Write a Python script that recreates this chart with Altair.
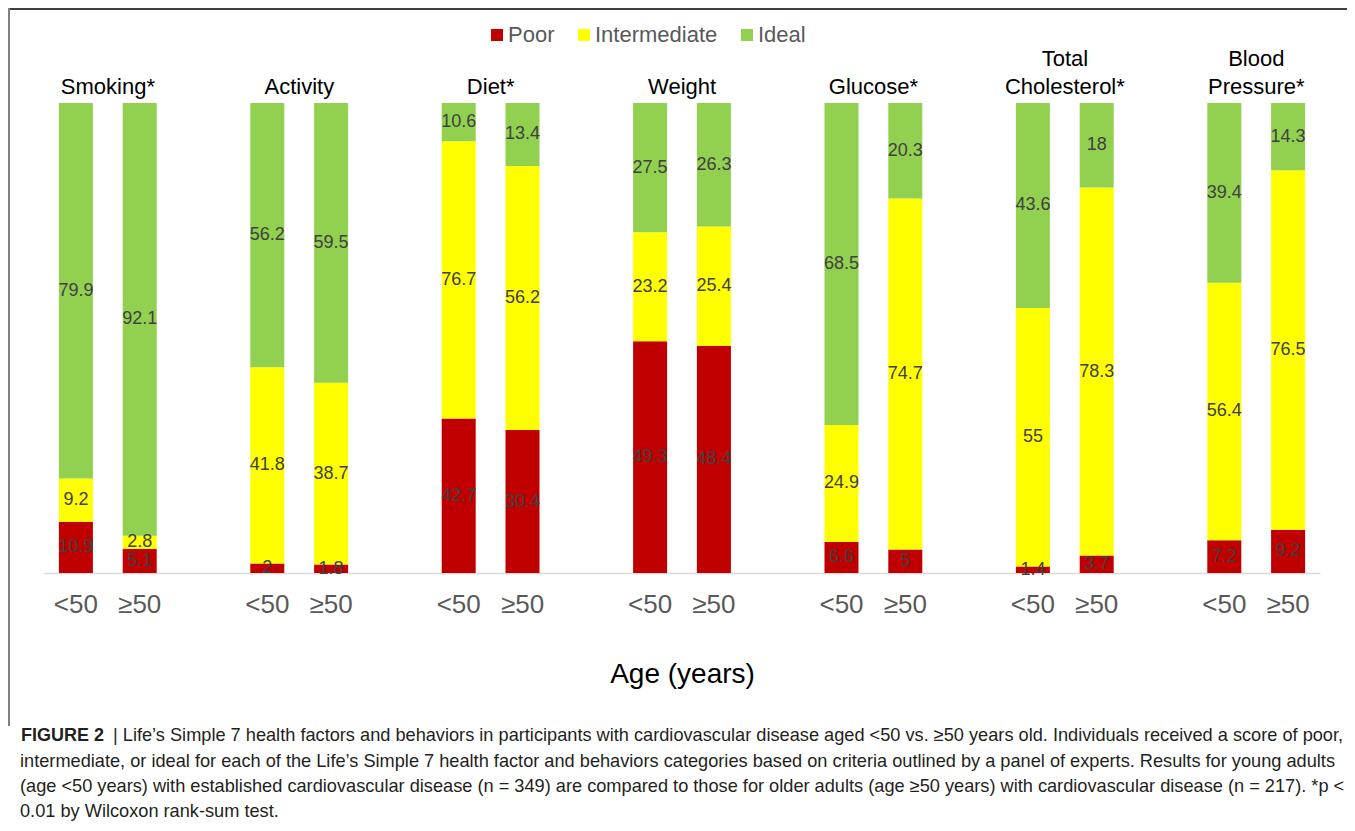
import altair as alt
import pandas as pd

# ---------------- data ----------------
factors = ["Smoking*", "Activity", "Diet*", "Weight", "Glucose*",
           "Total\nCholesterol*", "Blood\nPressure*"]
ages = ["<50", "≥50"]
levels = ["Poor", "Intermediate", "Ideal"]
level_colors = ["#C00000", "#FFFF00", "#92D050"]

poor_lt50 = [10.9, 2, 42.7, 49.3, 6.6, 1.4, 7.2]
poor_ge50 = [5.1, 1.8, 30.4, 48.4, 5, 3.7, 9.2]
inter_lt50 = [9.2, 41.8, 76.7, 23.2, 24.9, 55, 56.4]
inter_ge50 = [2.8, 38.7, 56.2, 25.4, 74.7, 78.3, 76.5]
ideal_lt50 = [79.9, 56.2, 10.6, 27.5, 68.5, 43.6, 39.4]
ideal_ge50 = [92.1, 59.5, 13.4, 26.3, 20.3, 18, 14.3]

caption_bold = "FIGURE 2"
caption_line1 = ("| Life’s Simple 7 health factors and behaviors in participants with cardiovascular "
                 "disease aged <50 vs. ≥50 years old. Individuals received a score of poor,")
caption_line2 = ("intermediate, or ideal for each of the Life’s Simple 7 health factor and behaviors "
                 "categories based on criteria outlined by a panel of experts. Results for young adults")
caption_line3 = ("(age <50 years) with established cardiovascular disease (n = 349) are compared to those "
                 "for older adults (age ≥50 years) with cardiovascular disease (n = 217). *p <")
caption_line4 = "0.01 by Wilcoxon rank-sum test."

# ---------------- table ----------------
series = {
    ("<50", "Poor"): poor_lt50, ("≥50", "Poor"): poor_ge50,
    ("<50", "Intermediate"): inter_lt50, ("≥50", "Intermediate"): inter_ge50,
    ("<50", "Ideal"): ideal_lt50, ("≥50", "Ideal"): ideal_ge50,
}
slots = []
for i in range(len(factors)):
    slots += [f"F{i} <50", f"F{i} ≥50"]
    if i < len(factors) - 1:
        slots.append(f"gap{i}")

rows = []
for i, f in enumerate(factors):
    for a in ages:
        for k, lv in enumerate(levels):
            rows.append({"slot": f"F{i} {a}", "level": lv, "order": k,
                         "value": series[(a, lv)][i]})
df = pd.DataFrame(rows)

title_top, title_bottom = [], []
for f in factors:
    parts = f.split("\n")
    title_top.append(parts[0] if len(parts) > 1 else "")
    title_bottom.append(parts[-1])
titles_df = pd.DataFrame({"slot": [f"F{i} <50" for i in range(len(factors))],
                          "top": title_top, "bottom": title_bottom})

W, H = 1276, 470
FONT = "Liberation Sans"
CAP_FONT = "Liberation Sans"

xscale = alt.Scale(domain=slots, paddingInner=0.467, paddingOuter=0.2335)
xaxis = alt.Axis(
    title="Age (years)", titleFontSize=28, titleFont=FONT, titleColor="#000000",
    titleFontWeight="normal", titleY=87, titleBaseline="top",
    labelExpr="indexof(datum.value, 'gap') == 0 ? '' : slice(datum.value, -3)",
    labelFontSize=26, labelFont=FONT, labelColor="#595959", labelAngle=0,
    labelPadding=18, ticks=False, tickSize=0, grid=False,
    domainColor="#D9D9D9", domainWidth=1.5,
)
xenc = alt.X("slot:N", scale=xscale, axis=xaxis)
yscale = alt.Scale(domain=[0, 1])

stacked = alt.Chart(df).transform_stack(
    stack="value", groupby=["slot"], as_=["y0", "y1"], offset="normalize",
    sort=[alt.SortField("order", order="ascending")]
)

bars = stacked.mark_bar(strokeWidth=0).encode(
    x=xenc,
    y=alt.Y("y0:Q", scale=yscale, axis=None),
    y2="y1:Q",
    color=alt.Color("level:N", scale=alt.Scale(domain=levels, range=level_colors),
                    legend=alt.Legend(title=None, orient="none", legendX=442, legendY=-79,
                                      direction="horizontal", symbolType="square",
                                      symbolSize=144, symbolStrokeWidth=0,
                                      labelFontSize=22, labelFont=FONT,
                                      labelColor="#595959", labelOffset=0,
                                      columnPadding=18, padding=0)),
)

labels = stacked.transform_calculate(mid="(datum.y0 + datum.y1) / 2").mark_text(
    font=FONT, fontSize=18, color="#404040", baseline="middle", align="center"
).encode(
    x=xenc,
    y=alt.Y("mid:Q", scale=yscale, axis=None),
    text=alt.Text("value:Q", format="~g"),
)

title_style = dict(font=FONT, fontSize=22, color="#000000", baseline="bottom",
                   align="center", dx=32)
titles_bottom = alt.Chart(titles_df).mark_text(**title_style).encode(
    x=xenc, y=alt.value(-4), text="bottom:N")
titles_top = alt.Chart(titles_df).mark_text(**title_style).encode(
    x=xenc, y=alt.value(-32), text="top:N")


def cap(txt, x, y, bold=False):
    return alt.Chart(pd.DataFrame({"t": [txt]})).mark_text(
        font=CAP_FONT, fontSize=18 if bold else 18.2, color="#231F20",
        align="left", baseline="middle",
        fontWeight="bold" if bold else "normal"
    ).encode(text="t:N", x=alt.value(x), y=alt.value(y))


one = alt.Chart(pd.DataFrame({"a": [0]}))
frame_top = one.mark_rule(color="#404040", strokeWidth=2).encode(
    x=alt.value(-36), x2=alt.value(W + 27), y=alt.value(-94))
frame_left = one.mark_rule(color="#808080", strokeWidth=2).encode(
    x=alt.value(-35), y=alt.value(-95), y2=alt.value(623))

chart = alt.layer(
    frame_top, frame_left, bars, labels, titles_bottom, titles_top,
    cap(caption_bold, -23, 633, bold=True),
    cap(caption_line1, 69, 633),
    cap(caption_line2, -24, 659),
    cap(caption_line3, -24, 684),
    cap(caption_line4, -24, 709),
).properties(
    width=W, height=H,
    autosize=alt.AutoSizeParams(type="none"),
    padding={"left": 36, "top": 95, "right": 27, "bottom": 250},
    background="white",
).configure_view(stroke=None)

chart.save("out.html", embed_options={"renderer": "svg", "actions": False})
